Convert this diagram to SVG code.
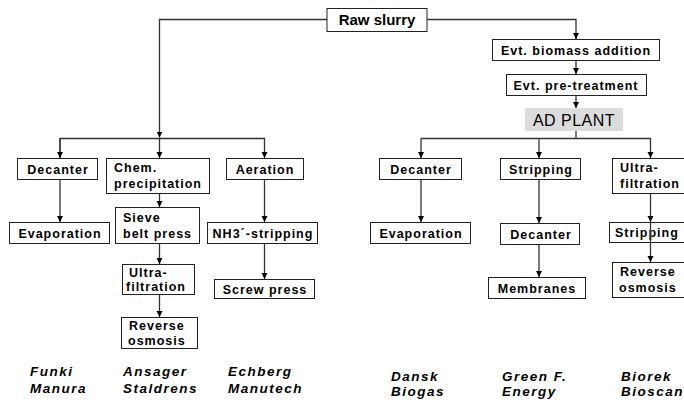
<svg xmlns="http://www.w3.org/2000/svg" width="684" height="402" viewBox="0 0 684 402">
<style>
.b{fill:#fff;stroke:#222;stroke-width:1}
.g{fill:#dcdcdc;stroke:none}
.t{font-family:"Liberation Sans",Arial,sans-serif;font-weight:bold;font-size:12.5px;letter-spacing:1px;fill:#000}
.c{text-anchor:middle}
.big{font-family:"Liberation Sans",Arial,sans-serif;font-size:15px;font-weight:bold;fill:#000;text-anchor:middle}
.ad{font-family:"Liberation Sans",Arial,sans-serif;font-size:16px;letter-spacing:0.5px;fill:#000;text-anchor:middle}
.lab{font-family:"Liberation Sans",Arial,sans-serif;font-style:italic;font-weight:bold;font-size:13.5px;letter-spacing:1.5px;fill:#000}
.ln{fill:none;stroke:#333;stroke-width:1.3}
</style>
<defs>
<marker id="ah" markerWidth="7" markerHeight="7" refX="6" refY="3.5" orient="auto" markerUnits="userSpaceOnUse">
<path d="M0,0.5 L6,3.5 L0,6.5 Z" fill="#000"/>
</marker>
</defs>
<rect width="684" height="402" fill="#fff"/>

<g id="raw"><rect class="b" x="327" y="8.5" width="100" height="23"/><text class="big" x="377" y="25">Raw slurry</text></g>
<g id="biomass"><rect class="b" x="492.5" y="39.5" width="167" height="21"/><text class="t c" x="576" y="55">Evt. biomass addition</text></g>
<g id="pretreat"><rect class="b" x="506.5" y="74.5" width="140" height="21"/><text class="t c" x="576" y="90">Evt. pre-treatment</text></g>
<g id="adplant"><rect class="g" x="525" y="108" width="98" height="23"/><text class="ad" x="574" y="125.5">AD PLANT</text></g>

<g id="decanter1"><rect class="b" x="17.5" y="158.5" width="80" height="21"/><text class="t c" x="58" y="174">Decanter</text></g>
<g id="chem"><rect class="b" x="106.5" y="158.5" width="103" height="35"/><text class="t" x="114" y="172">Chem.</text><text class="t" x="114" y="188">precipitation</text></g>
<g id="aeration"><rect class="b" x="226.5" y="158.5" width="77" height="21"/><text class="t c" x="265" y="174">Aeration</text></g>
<g id="evap1"><rect class="b" x="9.5" y="222.5" width="100" height="21"/><text class="t c" x="60" y="238">Evaporation</text></g>
<g id="sieve"><rect class="b" x="115.5" y="207.5" width="84" height="36"/><text class="t" x="123" y="222">Sieve</text><text class="t" x="123" y="238">belt press</text></g>
<g id="nh3"><rect class="b" x="207.5" y="222.5" width="110" height="21"/><text class="t c" x="263" y="238">NH3´-stripping</text></g>
<g id="uf1"><rect class="b" x="122.5" y="264.5" width="72" height="30"/><text class="t" x="129" y="277">Ultra-</text><text class="t" x="126" y="291">filtration</text></g>
<g id="screw"><rect class="b" x="214.5" y="279.5" width="100" height="19"/><text class="t c" x="265" y="294">Screw press</text></g>
<g id="ro1"><rect class="b" x="121.5" y="317.5" width="76" height="31"/><text class="t" x="129" y="330">Reverse</text><text class="t" x="128" y="345">osmosis</text></g>

<g id="decanter2"><rect class="b" x="379.5" y="158.5" width="82" height="21"/><text class="t c" x="421" y="174">Decanter</text></g>
<g id="stripping1"><rect class="b" x="500.5" y="158.5" width="80" height="21"/><text class="t c" x="541" y="174">Stripping</text></g>
<g id="uf2"><rect class="b" x="612.5" y="158.5" width="80" height="35"/><text class="t" x="620" y="172">Ultra-</text><text class="t" x="620" y="188">filtration</text></g>
<g id="evap2"><rect class="b" x="370.5" y="222.5" width="100" height="21"/><text class="t c" x="421" y="238">Evaporation</text></g>
<g id="decanter3"><rect class="b" x="500.5" y="223.5" width="79" height="21"/><text class="t c" x="541" y="239">Decanter</text></g>
<g id="stripping2"><rect class="b" x="609.5" y="222.5" width="80" height="20"/><text class="t" x="615" y="237">Stripping</text></g>
<g id="membranes"><rect class="b" x="488.5" y="277.5" width="97" height="21"/><text class="t c" x="537" y="293">Membranes</text></g>
<g id="ro2"><rect class="b" x="612.5" y="262.5" width="80" height="35"/><text class="t" x="620" y="276">Reverse</text><text class="t" x="619" y="292">osmosis</text></g>

<g id="connectors">
<path class="ln" d="M327,19.5 H159.5 V137.5" marker-end="url(#ah)"/>
<path class="ln" d="M427,19.5 H576 V39" marker-end="url(#ah)"/>
<path class="ln" d="M576,61 V74" marker-end="url(#ah)"/>
<path class="ln" d="M576,96 V108" marker-end="url(#ah)"/>
<path class="ln" d="M576,131 V138.5"/>
<path class="ln" d="M60,158 V138.5 H264.5 V158" marker-end="url(#ah)"/>
<path class="ln" d="M60,138.5 V158" marker-end="url(#ah)"/>
<path class="ln" d="M159.5,138.5 V158" marker-end="url(#ah)"/>
<path class="ln" d="M421,138.5 H650.5 V158" marker-end="url(#ah)"/>
<path class="ln" d="M421,138.5 V158" marker-end="url(#ah)"/>
<path class="ln" d="M539,138.5 V158" marker-end="url(#ah)"/>
<path class="ln" d="M60,180 V222" marker-end="url(#ah)"/>
<path class="ln" d="M159.5,194 V207" marker-end="url(#ah)"/>
<path class="ln" d="M264.5,180 V222" marker-end="url(#ah)"/>
<path class="ln" d="M159.5,244 V264" marker-end="url(#ah)"/>
<path class="ln" d="M264.5,244 V279" marker-end="url(#ah)"/>
<path class="ln" d="M159.5,295 V317" marker-end="url(#ah)"/>
<path class="ln" d="M421,180 V222" marker-end="url(#ah)"/>
<path class="ln" d="M539,180 V223" marker-end="url(#ah)"/>
<path class="ln" d="M539,245 V277" marker-end="url(#ah)"/>
<path class="ln" d="M650.5,194 V222" marker-end="url(#ah)"/>
<path class="ln" d="M650.5,222 V262" marker-end="url(#ah)"/>
</g>

<g id="labels">
<text class="lab" x="30" y="376">Funki</text><text class="lab" x="30" y="393">Manura</text>
<text class="lab" x="123" y="376">Ansager</text><text class="lab" x="123" y="393">Staldrens</text>
<text class="lab" x="228" y="376">Echberg</text><text class="lab" x="228" y="393">Manutech</text>
<text class="lab" x="391" y="381">Dansk</text><text class="lab" x="391" y="396">Biogas</text>
<text class="lab" x="502" y="381">Green F.</text><text class="lab" x="502" y="396">Energy</text>
<text class="lab" x="621" y="381">Biorek</text><text class="lab" x="621" y="396">Bioscan</text>
</g>
</svg>
